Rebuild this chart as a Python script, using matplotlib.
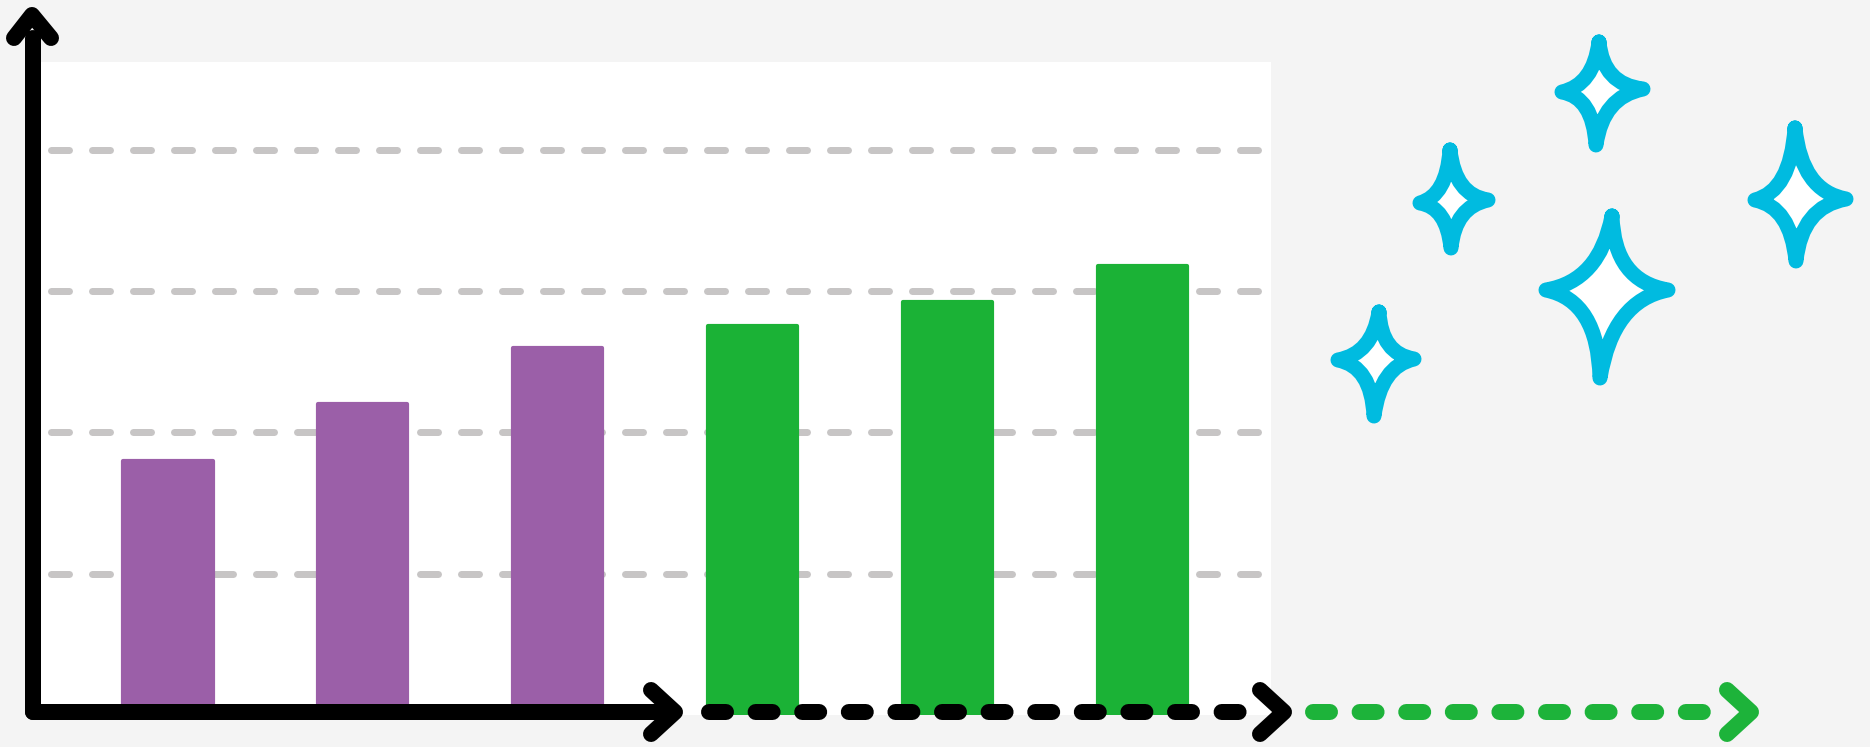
import numpy as np
import matplotlib
matplotlib.use("Agg")
import matplotlib.pyplot as plt
from matplotlib.path import Path
from matplotlib.patches import PathPatch

plt.rcParams['lines.scale_dashes'] = False

# data
values = [1.80, 2.20, 2.60, 2.75, 2.92, 3.18]
bar_colors = ['#9b5fa8', '#9b5fa8', '#9b5fa8', '#1bb236', '#1bb236', '#1bb236']
grid_levels = [1, 2, 3, 4]

W, H = 1870, 747
PX = 0.72  # points per pixel at dpi 100

fig = plt.figure(figsize=(W / 100, H / 100), dpi=100)
fig.patch.set_facecolor('#f4f4f4')

ax = fig.add_axes([40 / W, 1 - 715 / H, (1271 - 40) / W, (715 - 62) / H])
ax.set_facecolor('white')
x = np.arange(len(values))
ax.bar(x, values, width=0.457, color=bar_colors, edgecolor=bar_colors,
       linewidth=3, joinstyle='round', zorder=3)
for g in grid_levels:
    ax.axhline(g, xmin=11 / 1231, xmax=1, color='#c7c5c5', lw=7 * PX,
               dashes=(18 * PX, 23 * PX), solid_capstyle='round',
               dash_capstyle='round', zorder=1)
ax.set_xlim(-0.657, 5.662)
ax.set_ylim(0, 4.62)
for s in ax.spines.values():
    s.set_visible(False)
ax.set_xticks([])
ax.set_yticks([])

# overlay for axis arrows and sparkles, in pixel units
ov = fig.add_axes([0, 0, 1, 1], zorder=5)
ov.set_xlim(0, W)
ov.set_ylim(H, 0)
ov.axis('off')
ov.patch.set_alpha(0)

lw = 16 * PX
kw = dict(lw=lw, solid_capstyle='round', solid_joinstyle='round', dash_capstyle='round')

# y axis
ov.plot([33, 33], [712, 38], color='black', **kw)
ov.plot([14, 32, 51], [38, 15, 38], color='black', **kw)
# x axis solid part
ov.plot([33, 672], [712, 712], color='black', **kw)
ov.plot([651, 675, 651], [690, 712, 734], color='black', **kw)
# dashed continuation
ov.plot([709, 1240], [712, 712], color='black', dashes=(17 * PX, 29.6 * PX), **kw)
ov.plot([1260, 1284, 1260], [690, 712, 734], color='black', **kw)
ov.plot([1313, 1704], [712, 712], color='#1db33a', dashes=(17 * PX, 29.6 * PX), **kw)
ov.plot([1727, 1751, 1727], [690, 712, 734], color='#1db33a', **kw)

# sparkles: top, right, bottom, left tips
sparkles = [
    [(1599, 42), (1643, 89), (1596, 145), (1562, 92)],
    [(1450, 150), (1488, 200), (1451, 248), (1420, 203)],
    [(1795, 128), (1846, 199), (1796, 261), (1755, 200)],
    [(1612, 216), (1668, 290), (1600, 378), (1546, 290)],
    [(1379, 312), (1414, 359), (1374, 416), (1338, 360)],
]
f = 0.12
for t, r, b, l in sparkles:
    cx = (t[0] + b[0]) / 2
    cy = (l[1] + r[1]) / 2
    pts = [t, r, b, l, t]
    verts = [t]
    codes = [Path.MOVETO]
    for p, q in zip(pts[:-1], pts[1:]):
        # control point near the center, towards the corner between tips
        ctrl = (cx + f * ((p[0] + q[0]) - 2 * cx), cy + f * ((p[1] + q[1]) - 2 * cy))
        verts += [ctrl, q]
        codes += [Path.CURVE3, Path.CURVE3]
    path = Path(verts, codes)
    ov.add_patch(PathPatch(path, facecolor='white', edgecolor='#00bbe0',
                           lw=15 * PX, joinstyle='round', capstyle='round'))

fig.savefig('out.png', dpi=100, facecolor=fig.get_facecolor())
